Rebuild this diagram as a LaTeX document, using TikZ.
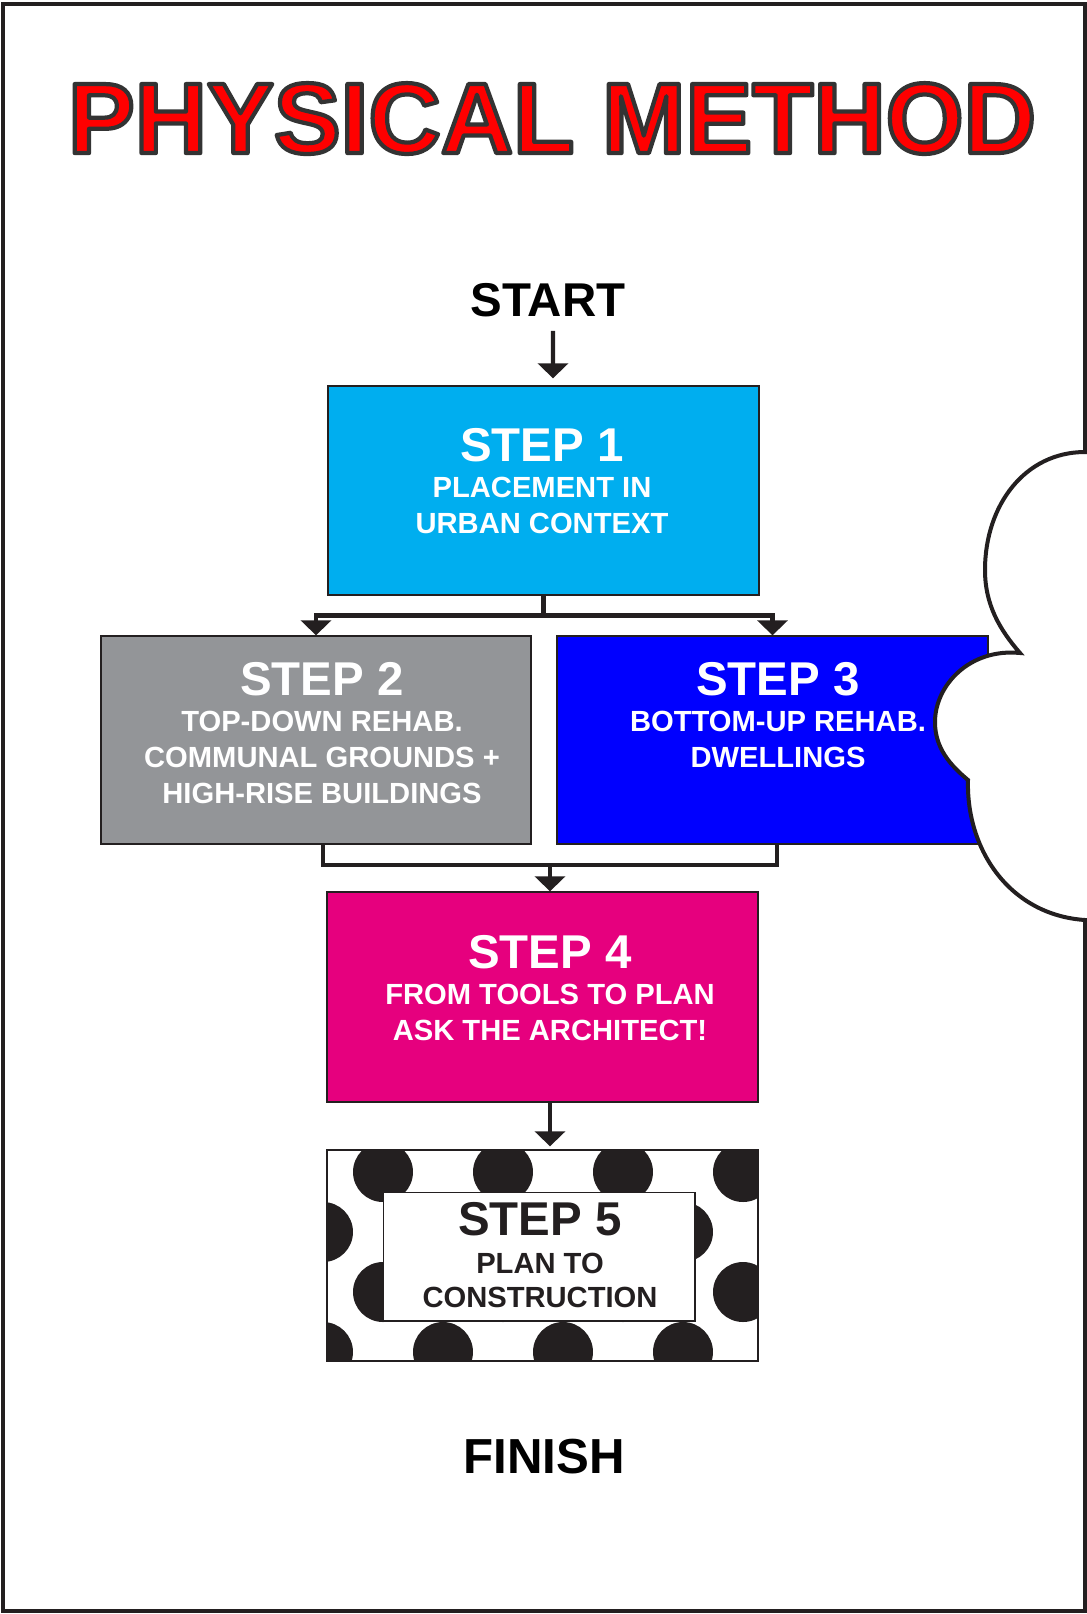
\documentclass[tikz,border=0pt]{standalone}
\usepackage{fontspec}
\setmainfont{Liberation Sans}
\usetikzlibrary{arrows.meta}
\definecolor{ccInk}{HTML}{231F20}
\definecolor{ccRed}{HTML}{FF0000}
\definecolor{ccCyan}{HTML}{00AEEF}
\definecolor{ccGray}{HTML}{939598}
\definecolor{ccBlue}{HTML}{0000FF}
\definecolor{ccMagenta}{HTML}{E6007E}
\newcommand{\pmTitle}{\fontsize{57}{60}\selectfont\bfseries}
\newcommand{\pmBig}{\fontsize{27}{30}\selectfont\bfseries}
\newcommand{\pmSmall}{\fontsize{16.6}{20.4}\selectfont\bfseries}
\newcommand{\pmMark}{\fontsize{27}{30}\selectfont\bfseries}
% filled and stroked letters
\newcommand{\pmOutline}[1]{\special{pdf:literal direct 2 Tr 1 j 0.2 0.2 0.2 RG 2.4 w}#1\special{pdf:literal direct 0 Tr 0 j}}

\begin{document}
\begin{tikzpicture}[x=0.02cm, y=-0.02cm,
    stepbox/.style={draw=ccInk, line width=0.8pt, minimum width=8.62cm, minimum height=4.18cm, inner sep=0pt},
    steptext/.style={anchor=north, align=center, inner sep=0pt, text=white, font=\pmSmall},
    marktext/.style={anchor=base, inner sep=0pt, text=black, font=\pmMark},
    link/.style={ccInk, line width=2.5pt},
    arr/.style={link, -{Triangle[length=0.3cm, width=0.6cm]}}
  ]
  \useasboundingbox (0,0) rectangle (1087,1614);
  \draw[ccInk, line width=0.08cm] (3,4) rectangle (1085,1611);

  \node[anchor=base, inner sep=0pt, font=\pmTitle, text=ccRed] (title) at (552,153)
    {\pmOutline{PHYSICAL METHOD}};

  \node[marktext] (start) at (548,316) {START};

  % step boxes
  \node[stepbox, fill=ccCyan] (s1) at (543.5,490.5) {};
  \node[stepbox, fill=ccGray, minimum width=8.6cm, minimum height=4.16cm] (s2) at (316,740) {};
  \node[stepbox, fill=ccBlue, minimum height=4.16cm] (s3) at (772.5,740) {};
  \node[stepbox, fill=ccMagenta, minimum height=4.2cm] (s4) at (542.5,997) {};
  \node[stepbox, fill=white, minimum height=4.22cm] (s5) at (542.5,1255.5) {};

  \begin{scope}
    \clip (s5.south west) rectangle (s5.north east);
    \foreach \r in {0,1,2,3}{
      \foreach \c in {0,1,2,3}{
        \fill[ccInk] ({383-60*mod(\r,2)+120*\c},{1172+60*\r}) circle[radius=0.6cm];
      }
    }
  \end{scope}
  \draw[ccInk, line width=0.8pt] (s5.south west) rectangle (s5.north east);
  \node[draw=ccInk, line width=0.6pt, fill=white, minimum width=6.24cm, minimum height=2.58cm] (s5in) at (539,1256.5) {};

  \node[steptext] (t1) at (542,428) {{\pmBig STEP 1}\\PLACEMENT IN\\URBAN CONTEXT};
  \node[steptext] (t2) at (322,662) {{\pmBig STEP 2}\\TOP-DOWN REHAB.\\COMMUNAL GROUNDS +\\HIGH-RISE BUILDINGS};
  \node[steptext] (t3) at (778,662) {{\pmBig STEP 3}\\BOTTOM-UP REHAB.\\DWELLINGS};
  \node[steptext] (t4) at (550,935) {{\pmBig STEP 4}\\FROM TOOLS TO PLAN\\ASK THE ARCHITECT!};
  \node[steptext, text=ccInk] (t5) at (540,1202) {{\pmBig STEP 5}\\[1pt]PLAN TO\\[-1pt]CONSTRUCTION};

  % connectors
  \draw[arr, shorten <=0.28cm, shorten >=0.14cm] ([xshift=0.1cm]start.south) -- ([xshift=0.19cm]s1.north);
  \draw[arr] (s1.south) -- ++(0,20) -| (s2.north);
  \draw[arr] (s1.south) -- ++(0,20) -| (s3.north);
  \coordinate (j4) at (550,865);
  \draw[link] ([xshift=0.14cm]s2.south) |- (j4) -| ([xshift=0.09cm]s3.south);
  \draw[arr] (j4) -- (j4 |- s4.north);
  \draw[arr, shorten >=0.06cm] ([xshift=0.15cm]s4.south) -- ([xshift=0.15cm]s5.north);

  \node[marktext, font=\fontsize{28}{30}\selectfont\bfseries] (finish) at (544,1473) {FINISH};

  % cloud over the right edge
  \draw[ccInk, line width=0.08cm, fill=white] (1085,452)
    .. controls (1025,452) and (985,505) .. (985,570)
    .. controls (985,605) and (1000,630) .. (1020,653)
    .. controls (970,648) and (935,685) .. (935,722)
    .. controls (935,748) and (950,765) .. (968,780)
    .. controls (966,850) and (1010,915) .. (1085,920)
    -- (1100,920) -- (1100,452) -- cycle;
\end{tikzpicture}
\end{document}
